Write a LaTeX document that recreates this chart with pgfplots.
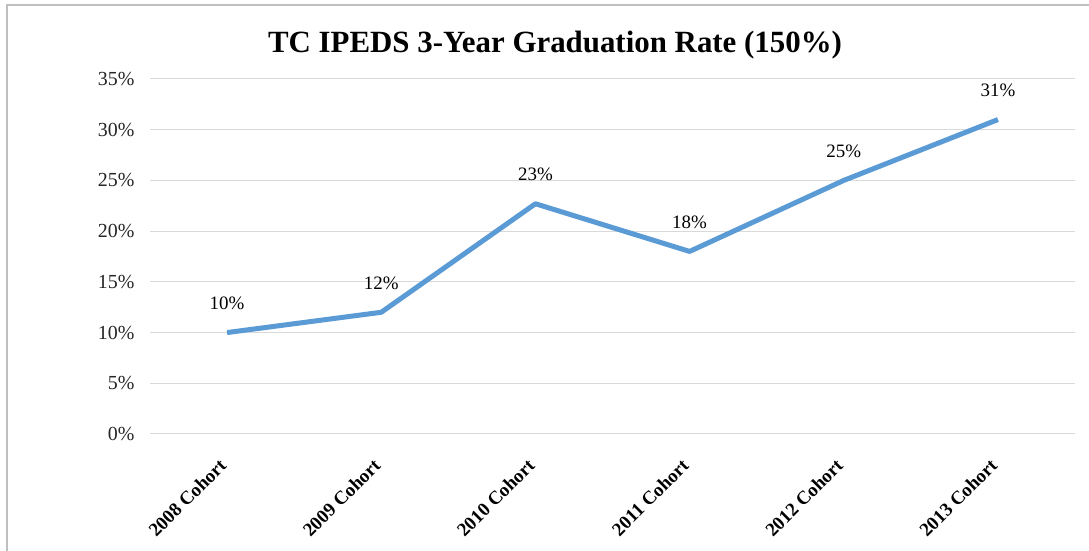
\documentclass[border=0pt]{standalone}
\usepackage{pgfplots}
\pgfplotsset{compat=1.18}
\usepackage{fontspec}
\setmainfont{Liberation Serif}
\definecolor{lineblue}{HTML}{5B9BD5}
\definecolor{gridgray}{HTML}{D9D9D9}
\definecolor{framegray}{HTML}{BFBFBF}
\begin{document}
\begin{tikzpicture}[x=1bp,y=1bp]
\useasboundingbox (0,0) rectangle (1089,551);
\fill[white] (0,0) rectangle (1089,551);
\draw[framegray, line width=1.5bp] (7,0) -- (7,546) -- (1089,546);
\node[font=\fontsize{31}{35}\bfseries] at (555,506) {TC IPEDS 3-Year Graduation Rate (150\%)};
\begin{axis}[
  at={(150bp,117bp)}, anchor=south west,
  scale only axis, width=925bp, height=355bp,
  xmin=-0.5, xmax=5.5, ymin=0, ymax=35,
  axis line style={draw=none},
  major tick style={draw=none},
  ymajorgrids, grid style={gridgray, line width=1bp},
  ytick={0,5,...,35},
  yticklabel={\pgfmathprintnumber{\tick}\%},
  /pgf/number format/assume math mode=true,
  yticklabel style={font=\fontsize{20}{22}\selectfont, xshift=-12bp, text=black!85},
  xtick={0,...,5},
  xticklabels={2008 Cohort,2009 Cohort,2010 Cohort,2011 Cohort,2012 Cohort,2013 Cohort},
  xticklabel style={font=\fontsize{19}{21}\selectfont\bfseries, xshift=-9bp, yshift=-22bp, rotate=45, anchor=north east, inner sep=1bp},
  clip=false,
]
\addplot[lineblue, line width=5bp, line join=round,
  nodes near coords, point meta=explicit symbolic,
  every node near coord/.append style={font=\fontsize{19}{21}\selectfont, anchor=south, yshift=17bp, text=black}]
  coordinates {(0,10)[10\%] (1,12)[12\%] (2,22.7)[23\%] (3,18)[18\%] (4,25)[25\%] (5,31)[31\%]};
\end{axis}
\end{tikzpicture}
\end{document}
